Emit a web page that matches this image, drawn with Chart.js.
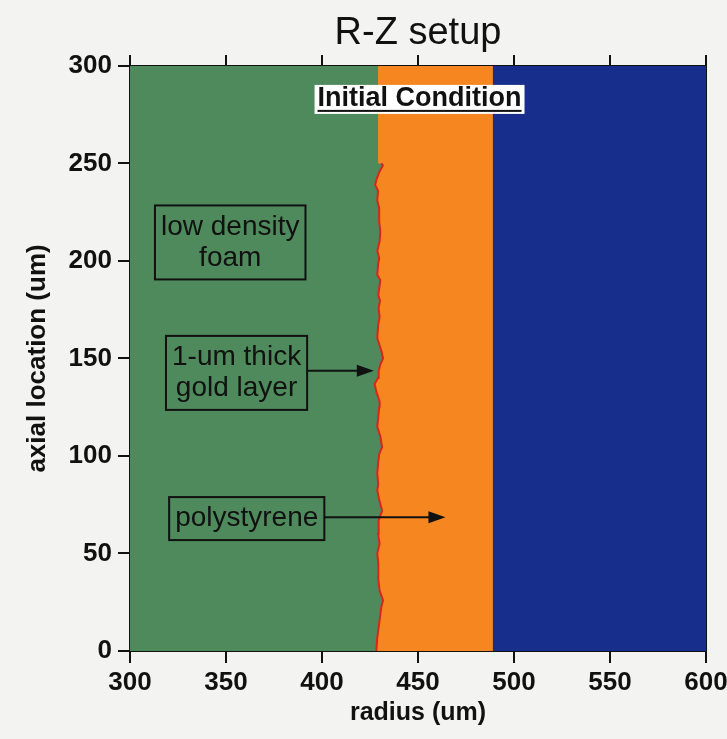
<!DOCTYPE html>
<html>
<head>
<meta charset="utf-8">
<title>R-Z setup</title>
<script src="https://cdn.jsdelivr.net/npm/chart.js@4.4.1/dist/chart.umd.min.js"></script>
<style>
  html, body { margin: 0; padding: 0; background: #f3f3f1; }
  canvas { display: block; }
</style>
</head>
<body>
<canvas id="rzChart" width="727" height="739"></canvas>
<script>
// axis ranges (um)
const rRange = [300, 600];
const zRange = [0, 300];
const tickStep = 50;

// material interfaces (radius, um)
const foamEdgeR = 429.2;   // foam / polystyrene above the gold layer
const polyOuterR = 489;    // polystyrene / outer shell

// rough gold layer trace: axial location and radius (um)
const goldZ = [0, 7, 12, 19.5, 22.5, 26, 31, 38, 41.5, 44.5,
  50, 55, 60, 67, 72, 77.5, 82.5, 85.5, 91, 96,
  101, 104.5, 110, 115, 120, 125, 128, 133, 137, 140,
  143.5, 147, 150, 154, 160.5, 167.5, 171, 176, 179.5, 182.5,
  186, 190, 193, 198, 201.5, 205, 210, 215, 220, 227,
  231, 236, 239, 241.5, 245.5, 249, 250];
const goldR = [428.3, 428.8, 429.5, 430.5, 430.9, 431.8, 430.0, 429.2, 429.5, 429.2,
  428.8, 430.0, 429.2, 429.5, 431.3, 429.8, 428.8, 429.3, 428.8, 429.2,
  429.8, 431.3, 430.4, 428.8, 429.3, 429.8, 430.0, 428.3, 427.4, 429.2,
  429.5, 430.4, 431.8, 430.9, 428.8, 429.3, 430.0, 429.5, 430.2, 429.3,
  429.8, 430.4, 428.8, 429.2, 429.8, 428.8, 430.0, 430.4, 429.8, 429.8,
  428.8, 429.2, 427.7, 428.3, 429.8, 431.7, 430.9];

// boxed labels, anchored in data units
const notes = [
  { lines: ['low density', 'foam'], r: 352.2, z: 209.5 },
  { lines: ['1-um thick', 'gold layer'], r: 355.5, z: 142.6, arrowZ: 143.7, arrowTo: 427 },
  { lines: ['polystyrene'], r: 360.8, z: 67.9, arrowZ: 68.6, arrowTo: 464.3 }
];
const stageLabel = { text: 'Initial Condition', r: 450.8, z: 283.1 };

const FONT = "'Liberation Sans', Arial, Helvetica, sans-serif";
Chart.defaults.font.family = FONT;
Chart.defaults.color = '#111';

const goldTrace = goldZ.map((z, i) => ({ x: goldR[i], y: z }));
const goldTopZ = goldZ[goldZ.length - 1];
const foamOutline = goldTrace.concat([
  { x: foamEdgeR, y: goldTopZ },
  { x: foamEdgeR, y: zRange[1] }
]);
const fullHeight = r => [{ x: r, y: zRange[0] }, { x: r, y: zRange[1] }];

// label boxes and arrows drawn on top of the plot
const notesPlugin = {
  id: 'notes',
  afterDraw(chart) {
    const { ctx, scales: { x, y } } = chart;
    ctx.save();
    ctx.strokeStyle = '#111';
    ctx.fillStyle = '#111';
    ctx.lineWidth = 2;
    ctx.font = '28px ' + FONT;
    ctx.textAlign = 'center';
    ctx.textBaseline = 'middle';
    const lineH = 31, pad = 6;
    notes.forEach(n => {
      const cx = x.getPixelForValue(n.r);
      const cy = y.getPixelForValue(n.z);
      const w = Math.max(...n.lines.map(t => ctx.measureText(t).width)) + pad * 2;
      const h = n.lines.length * lineH + pad * 2;
      ctx.strokeRect(cx - w / 2, cy - h / 2, w, h);
      n.lines.forEach((t, i) => ctx.fillText(t, cx, cy - h / 2 + pad + lineH * (i + 0.5)));
      if (n.arrowTo !== undefined) {
        const ay = y.getPixelForValue(n.arrowZ);
        const x0 = cx + w / 2;
        const x1 = x.getPixelForValue(n.arrowTo);
        ctx.beginPath();
        ctx.moveTo(x0, ay);
        ctx.lineTo(x1 - 14, ay);
        ctx.stroke();
        ctx.beginPath();
        ctx.moveTo(x1, ay);
        ctx.lineTo(x1 - 17, ay - 6);
        ctx.lineTo(x1 - 17, ay + 6);
        ctx.closePath();
        ctx.fill();
      }
    });

    // stage label: white box, bold underlined text
    ctx.font = 'bold 27px ' + FONT;
    const sx = x.getPixelForValue(stageLabel.r);
    const sy = y.getPixelForValue(stageLabel.z);
    const sw = ctx.measureText(stageLabel.text).width;
    ctx.fillStyle = '#fff';
    ctx.fillRect(sx - sw / 2 - 3, sy - 14, sw + 6, 29);
    ctx.fillStyle = '#111';
    ctx.fillText(stageLabel.text, sx, sy);
    ctx.fillRect(sx - sw / 2, sy + 11, sw, 2);
    ctx.restore();
  }
};

const axisGrid = { drawOnChartArea: false, color: '#111', lineWidth: 2, tickLength: 12 };
const axisBorder = { display: true, color: '#111', width: 2 };
const tickFont = { size: 26, weight: 'bold', lineHeight: 1.2 };

new Chart(document.getElementById('rzChart'), {
  type: 'line',
  data: {
    datasets: [
      { label: 'gold layer', data: goldTrace, borderColor: '#d8261b', borderWidth: 2, fill: false },
      { label: 'low density foam', data: foamOutline, borderWidth: 0, backgroundColor: '#4e8a5c', fill: { value: rRange[0] } },
      { label: 'polystyrene', data: fullHeight(polyOuterR), borderWidth: 0, backgroundColor: '#f6861f', fill: { value: rRange[0] } },
      { label: 'outer shell', data: fullHeight(rRange[1]), borderWidth: 0, backgroundColor: '#182e8d', fill: { value: rRange[0] } }
    ]
  },
  options: {
    indexAxis: 'y',
    responsive: false,
    animation: false,
    layout: { padding: 0 },
    elements: { point: { radius: 0 }, line: { tension: 0 } },
    plugins: {
      legend: { display: false },
      tooltip: { enabled: false },
      title: {
        display: true,
        fullSize: false,
        text: 'R-Z setup',
        color: '#111',
        font: { size: 38, weight: 'normal', lineHeight: 1.13 },
        padding: { top: 12, bottom: 0 }
      }
    },
    scales: {
      x: {
        type: 'linear', position: 'bottom', min: rRange[0], max: rRange[1],
        ticks: { stepSize: tickStep, font: tickFont, padding: 4, maxRotation: 0 },
        grid: axisGrid, border: axisBorder,
        title: { display: true, text: 'radius (um)', font: { size: 25, weight: 'bold', lineHeight: 1.2 }, padding: { bottom: 11 } },
        afterFit: s => { s.height = 88; s.paddingLeft = 0; s.paddingRight = 0; }
      },
      xTop: {
        type: 'linear', position: 'top', min: rRange[0], max: rRange[1],
        ticks: { stepSize: tickStep, display: false },
        grid: Object.assign({}, axisGrid, { tickLength: 11 }), border: axisBorder,
        afterFit: s => { s.height = 11; }
      },
      y: {
        type: 'linear', position: 'left', min: zRange[0], max: zRange[1],
        ticks: { stepSize: tickStep, font: tickFont, padding: 6 },
        grid: axisGrid, border: axisBorder,
        title: { display: true, text: 'axial location (um)', font: { size: 26, weight: 'bold', lineHeight: 1.2 }, padding: { top: 22 } },
        afterFit: s => { s.width = 130; s.paddingTop = 0; s.paddingBottom = 0; }
      },
      yRight: {
        type: 'linear', position: 'right', min: zRange[0], max: zRange[1],
        ticks: { display: false },
        grid: { drawOnChartArea: false, drawTicks: false },
        border: axisBorder,
        afterFit: s => { s.width = 21; }
      }
    }
  },
  plugins: [notesPlugin]
});
</script>
</body>
</html>
